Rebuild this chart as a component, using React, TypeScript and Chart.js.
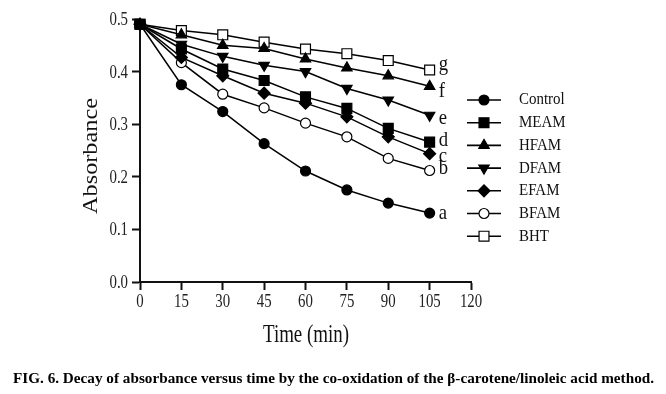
import React, { useEffect, useRef } from "react";
import { Chart, registerables } from "chart.js";
import { drawPoint } from "chart.js/helpers";

Chart.register(...registerables);

const time = [0, 15, 30, 45, 60, 75, 90, 105];
const control = [0.49, 0.375, 0.324, 0.263, 0.211, 0.175, 0.15, 0.131];
const meam = [0.49, 0.443, 0.405, 0.383, 0.352, 0.33, 0.292, 0.266];
const hfam = [0.49, 0.47, 0.45, 0.444, 0.424, 0.407, 0.392, 0.372];
const dfam = [0.49, 0.452, 0.429, 0.412, 0.4, 0.368, 0.346, 0.317];
const efam = [0.49, 0.427, 0.392, 0.359, 0.34, 0.314, 0.276, 0.244];
const bfam = [0.49, 0.417, 0.357, 0.331, 0.302, 0.276, 0.235, 0.212];
const bht = [0.49, 0.478, 0.47, 0.456, 0.443, 0.434, 0.421, 0.403];

const seriesNames = ["Control", "MEAM", "HFAM", "DFAM", "EFAM", "BFAM", "BHT"];
const seriesLetters = ["a", "d", "f", "e", "c", "b", "g"];
const xTicks = [0, 15, 30, 45, 60, 75, 90, 105, 120];
const yTicks = [0, 0.1, 0.2, 0.3, 0.4, 0.5];
const yTickLabels = ["0.0", "0.1", "0.2", "0.3", "0.4", "0.5"];
const xTitle = "Time (min)";
const yTitle = "Absorbance";
const caption =
  "FIG. 6. Decay of absorbance versus time by the co-oxidation of the \u03b2-carotene/linoleic acid method.";

const SERIF = "'Liberation Serif', 'Times New Roman', serif";

const styles = [
  { pointStyle: "circle", radius: 5, fill: "#000", rotation: 0 },
  { pointStyle: "rect", radius: 7, fill: "#000", rotation: 0 },
  { pointStyle: "triangle", radius: 6, fill: "#000", rotation: 0 },
  { pointStyle: "triangle", radius: 6, fill: "#000", rotation: 180 },
  { pointStyle: "rectRot", radius: 6, fill: "#000", rotation: 0 },
  { pointStyle: "circle", radius: 5, fill: "#fff", rotation: 0 },
  { pointStyle: "rect", radius: 7, fill: "#fff", rotation: 0 },
];
const seriesValues = [control, meam, hfam, dfam, efam, bfam, bht];
const letterDy = [0, -2, 5, 3, 3, -2, -6];

function drawText(
  ctx: CanvasRenderingContext2D,
  s: string,
  x: number,
  y: number,
  font: string,
  sx: number,
  align: CanvasTextAlign,
  baseline: CanvasTextBaseline,
  color = "#111"
) {
  ctx.save();
  ctx.translate(x, y);
  ctx.scale(sx, 1);
  ctx.font = font;
  ctx.fillStyle = color;
  ctx.textAlign = align;
  ctx.textBaseline = baseline;
  ctx.fillText(s, 0, 0);
  ctx.restore();
}

const decor = {
  id: "decor",
  afterDraw(chart: any) {
    const ctx: CanvasRenderingContext2D = chart.ctx;
    const xs = chart.scales.x;
    const ys = chart.scales.y;
    const tickFont = `19px ${SERIF}`;
    // tick labels
    xTicks.forEach((v) => {
      drawText(ctx, String(v), xs.getPixelForValue(v), 302, tickFont, 0.78, "center", "middle", "#222");
    });
    yTicks.forEach((v, i) => {
      drawText(ctx, yTickLabels[i], 128, ys.getPixelForValue(v) + 1, tickFont, 0.78, "right", "middle", "#222");
    });
    // x title
    ctx.save();
    ctx.font = `25px ${SERIF}`;
    const wx = ctx.measureText(xTitle).width;
    ctx.restore();
    drawText(ctx, xTitle, 306, 342, `25px ${SERIF}`, 86 / wx, "center", "alphabetic", "#111");
    // y title
    ctx.save();
    ctx.font = `23px ${SERIF}`;
    const wy = ctx.measureText(yTitle).width;
    ctx.translate(92, 156);
    ctx.rotate(-Math.PI / 2);
    ctx.scale(116 / wy, 0.9);
    ctx.fillStyle = "#111";
    ctx.textAlign = "center";
    ctx.textBaseline = "middle";
    ctx.fillText(yTitle, 0, 0);
    ctx.restore();
    // end letters
    seriesValues.forEach((vals, i) => {
      const meta = chart.getDatasetMeta(i);
      const el = meta.data[meta.data.length - 1];
      drawText(ctx, seriesLetters[i], el.x + 9, el.y + letterDy[i], `22px ${SERIF}`, 0.85, "left", "middle", "#111");
    });
    // legend
    seriesNames.forEach((name, i) => {
      const y = 100 + i * 22.7;
      ctx.save();
      ctx.strokeStyle = "#000";
      ctx.lineWidth = 1.6;
      ctx.beginPath();
      ctx.moveTo(467, y);
      ctx.lineTo(501, y);
      ctx.stroke();
      ctx.fillStyle = styles[i].fill;
      ctx.strokeStyle = "#000";
      ctx.lineWidth = 1.2;
      drawPoint(
        ctx,
        {
          pointStyle: styles[i].pointStyle as any,
          radius: styles[i].radius,
          rotation: styles[i].rotation,
          borderWidth: 1.2,
        } as any,
        484,
        y
      );
      ctx.restore();
      drawText(ctx, name, 519, y, `17px ${SERIF}`, 0.88, "left", "middle", "#111");
    });
    // caption
    ctx.save();
    const cFont = `bold 15px ${SERIF}`;
    ctx.font = cFont;
    const wc = ctx.measureText(caption).width;
    ctx.restore();
    drawText(ctx, caption, 13, 383, cFont, 641 / wc, "left", "alphabetic", "#000");
  },
};

export default function App() {
  const ref = useRef<HTMLCanvasElement | null>(null);
  useEffect(() => {
    document.body.style.margin = "0";
    const canvas = ref.current;
    if (!canvas) return;
    const datasets = seriesValues.map((vals, i) => ({
      label: seriesNames[i],
      data: vals.map((v, j) => ({ x: time[j], y: v })),
      borderColor: "#000",
      borderWidth: 1.5,
      pointStyle: styles[i].pointStyle,
      pointRadius: styles[i].radius,
      pointRotation: styles[i].rotation,
      pointBackgroundColor: styles[i].fill,
      pointBorderColor: "#000",
      pointBorderWidth: 1.2,
      clip: false as any,
      order: i === 1 ? 0 : i + 1,
      tension: 0,
    }));
    const axisCommon = {
      border: { color: "#111", width: 2 },
      grid: {
        display: true,
        drawOnChartArea: false,
        drawTicks: true,
        tickLength: 8,
        tickWidth: 2,
        tickColor: "#111",
      },
    };
    const chart = new Chart(canvas, {
      type: "line",
      data: { datasets: datasets as any },
      options: {
        responsive: false,
        animation: false,
        devicePixelRatio: 1,
        layout: { padding: { top: 19, right: 195, left: 0, bottom: 0 } },
        plugins: { legend: { display: false }, tooltip: { enabled: false } },
        scales: {
          x: {
            type: "linear",
            min: 0,
            max: 120,
            ...axisCommon,
            ticks: { display: false, stepSize: 15 },
            afterFit: (s: any) => {
              s.height = 112;
            },
          },
          y: {
            type: "linear",
            min: 0,
            max: 0.5,
            ...axisCommon,
            ticks: { display: false, stepSize: 0.1 },
            afterFit: (s: any) => {
              s.width = 140;
            },
          },
        },
      },
      plugins: [decor],
    });
    return () => chart.destroy();
  }, []);
  return (
    <div style={{ width: 666, height: 394, position: "relative", background: "#fff" }}>
      <canvas ref={ref} width={666} height={394} style={{ display: "block" }} />
    </div>
  );
}
